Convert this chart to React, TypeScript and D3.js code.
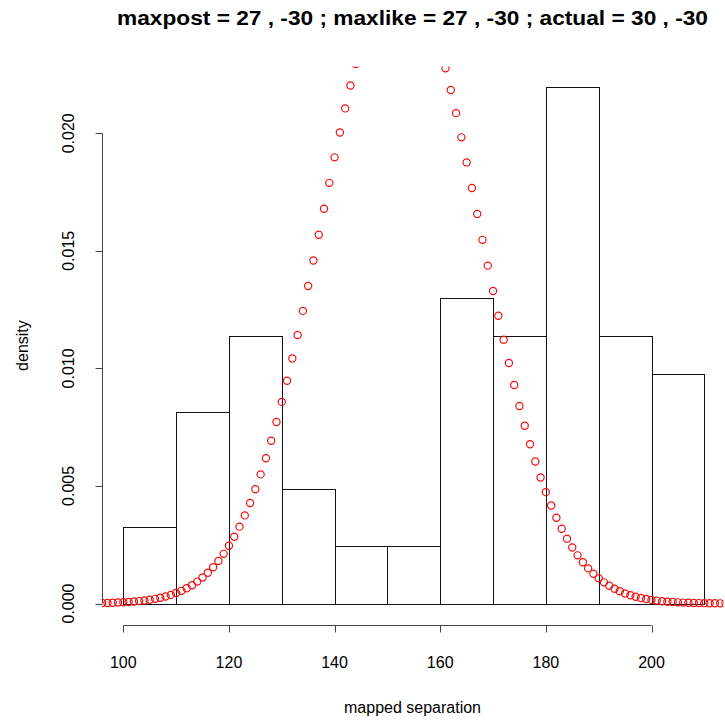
import React from "react";
import * as d3 from "d3";

const titleText = "maxpost = 27 , -30 ; maxlike = 27 , -30 ; actual = 30 , -30";
const xLabel = "mapped separation";
const yLabel = "density";

const binBreaks = [100, 110, 120, 130, 140, 150, 160, 170, 180, 190, 200, 210];
const binDensities = [0.003252, 0.00813, 0.011382, 0.004878, 0.002439, 0.002439, 0.013008, 0.011382, 0.021951, 0.011382, 0.009756];

const xTicks = [100, 120, 140, 160, 180, 200];
const yTicks = [0, 0.005, 0.01, 0.015, 0.02];
const yTickLabels = ["0.000", "0.005", "0.010", "0.015", "0.020"];

const curveX = d3.range(96, 216);
const curveY = [
  0.000019, 0.000024, 0.000031, 0.00004, 0.000051, 0.000065, 0.000082, 0.000103, 0.000128, 0.00016,
  0.000198, 0.000244, 0.0003, 0.000366, 0.000445, 0.000539, 0.00065, 0.000779, 0.000931, 0.001107,
  0.00131, 0.001543, 0.001809, 0.002112, 0.002454, 0.002839, 0.003269, 0.003748, 0.004276, 0.004857,
  0.005492, 0.006181, 0.006925, 0.007723, 0.008575, 0.009477, 0.010425, 0.011417, 0.012446, 0.013506,
  0.014589, 0.015687, 0.016792, 0.017892, 0.018977, 0.020036, 0.021059, 0.022032, 0.022946, 0.023789,
  0.02455, 0.02522, 0.025791, 0.026254, 0.026604, 0.026836, 0.026946, 0.026934, 0.026799, 0.026543,
  0.02617, 0.025685, 0.025094, 0.024405, 0.023626, 0.022769, 0.021842, 0.020858, 0.019827, 0.018762,
  0.017672, 0.016571, 0.015467, 0.014371, 0.013292, 0.012238, 0.011216, 0.010232, 0.009292, 0.008401,
  0.007559, 0.006772, 0.006039, 0.00536, 0.004737, 0.004166, 0.003648, 0.00318, 0.002758, 0.002382,
  0.002048, 0.001753, 0.001494, 0.001267, 0.00107, 0.000899, 0.000752, 0.000626, 0.000519, 0.000428,
  0.000352, 0.000288, 0.000234, 0.00019, 0.000153, 0.000123, 0.000098, 0.000078, 0.000062, 0.000049,
  0.000038, 0.00003, 0.000023, 0.000018, 0.000014, 0.000011, 0.000008, 0.000006, 0.000005, 0.000004,
];

const W = 725;
const H = 720;
const plot = { left: 101.7, right: 723.3, top: 66.4, bottom: 624.7 };

export default function App() {
  const x = d3.scaleLinear().domain([100, 200]).range([123.3, 651.5]);
  const y = d3.scaleLinear().domain([0, 0.02]).range([603.5, 133.3]);
  const font = "'Liberation Sans', Arial, Helvetica, sans-serif";
  const cx = (plot.left + plot.right) / 2;
  const cy = (plot.top + plot.bottom) / 2;
  const xAxisY = plot.bottom;

  return (
    <svg width={W} height={H} style={{ position: "absolute", left: 0, top: 0, background: "#fff" }} fontFamily={font}>
      <rect x={0} y={0} width={W} height={H} fill="#fff" />
      <defs>
        <clipPath id="plotclip">
          <rect x={plot.left} y={plot.top} width={plot.right - plot.left} height={plot.bottom - plot.top} />
        </clipPath>
      </defs>
      <text x={412.5} y={25} textAnchor="middle" fontWeight="bold" fontSize={20} fill="#000" textLength={591} lengthAdjust="spacingAndGlyphs">
        {titleText}
      </text>
      <g clipPath="url(#plotclip)">
        {binDensities.map((dv, i) => {
          const x0 = Math.round(x(binBreaks[i])) + 0.5;
          const x1 = Math.round(x(binBreaks[i + 1])) + 0.5;
          const yt = Math.round(y(dv)) + 0.5;
          const yb = Math.round(y(0)) + 0.5;
          return <rect key={i} x={x0} y={yt} width={x1 - x0} height={yb - yt} fill="none" stroke="#111" strokeWidth={1} />;
        })}
        {curveY.map((v, i) => (
          <circle key={i} cx={x(curveX[i])} cy={y(v)} r={3.6} fill="none" stroke="#f01010" strokeWidth={1.2} />
        ))}
      </g>
      <g stroke="#444" strokeWidth={1} fill="none">
        <line x1={Math.round(plot.left) + 0.5} x2={Math.round(plot.left) + 0.5} y1={y(0)} y2={y(0.02)} />
        {yTicks.map((t) => (
          <line key={t} x1={Math.round(plot.left) + 0.5} x2={Math.round(plot.left) - 7 + 0.5} y1={Math.round(y(t)) + 0.5} y2={Math.round(y(t)) + 0.5} />
        ))}
      </g>
      {yTicks.map((t, i) => (
        <text key={t} transform={`translate(74,${y(t)}) rotate(-90)`} textAnchor="middle" fontSize={16} fill="#000">
          {yTickLabels[i]}
        </text>
      ))}
      <g stroke="#444" strokeWidth={1} fill="none">
        <line x1={x(100)} x2={x(200)} y1={Math.round(xAxisY) + 0.5} y2={Math.round(xAxisY) + 0.5} />
        {xTicks.map((t) => (
          <line key={t} x1={Math.round(x(t)) + 0.5} x2={Math.round(x(t)) + 0.5} y1={Math.round(xAxisY) + 0.5} y2={Math.round(xAxisY) + 7.5} />
        ))}
      </g>
      {xTicks.map((t) => (
        <text key={t} x={x(t)} y={668} textAnchor="middle" fontSize={16} fill="#000">
          {t}
        </text>
      ))}
      <text x={cx} y={713} textAnchor="middle" fontSize={16} fill="#000">
        {xLabel}
      </text>
      <text transform={`translate(28,${cy}) rotate(-90)`} textAnchor="middle" fontSize={16} fill="#000">
        {yLabel}
      </text>
    </svg>
  );
}
